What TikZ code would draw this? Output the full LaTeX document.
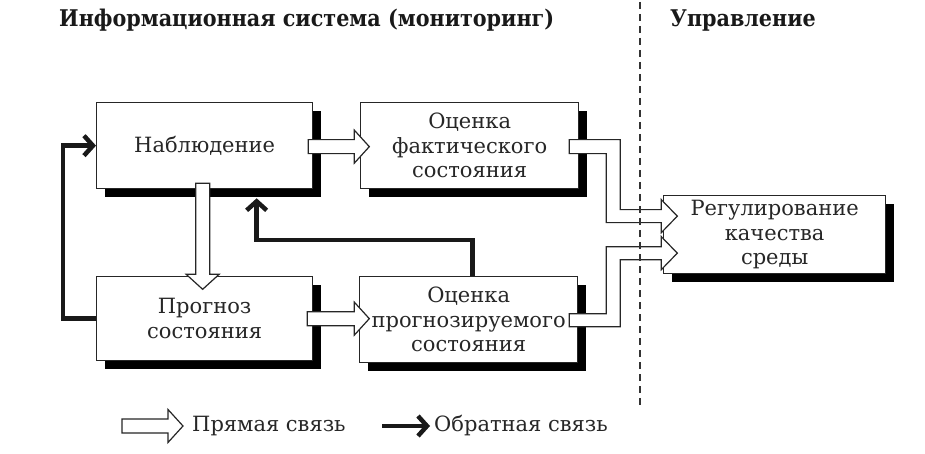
\documentclass[tikz,border=0pt]{standalone}
\usepackage{fontspec}
\setmainfont{DejaVu Serif}
\newfontfamily\titlefont{DejaVu Serif Condensed}
\usetikzlibrary{shadows,calc,arrows.meta}
\begin{document}
\begin{tikzpicture}[x=1pt,y=-1pt,
  box/.style={draw=black!85, line width=1.3pt, fill=white, rectangle, inner sep=0pt, anchor=north west, align=center, font=\fontsize{21}{24.5}\selectfont, text=black!85, drop shadow={shadow xshift=8pt, shadow yshift=-8pt, fill=black, opacity=1}},
  hollow/.style={draw=black!85, line width=1.2pt, fill=white, line join=miter},
  fb/.style={line width=4.5pt, black!90, line join=miter, -{Straight Barb[length=9pt,width=20pt]}},
  lbl/.style={font=\fontsize{21}{24.5}\selectfont, text=black!85, anchor=west, inner sep=0pt},
  ttl/.style={font=\titlefont\bfseries\fontsize{23}{27}\selectfont, text=black!90, anchor=base west, inner sep=0pt},
  dline/.style={line width=2.2pt, black!80, dash pattern=on 7pt off 5pt},
  pics/harrow/.style={code={\draw[hollow] (0,-7) -- (#1-15,-7) -- (#1-15,-16.5) -- (#1,0) -- (#1-15,16.5) -- (#1-15,7) -- (0,7) -- cycle;}}
]
\useasboundingbox (0,0) rectangle (925,454);
% titles
\node[ttl] (t1) at (59,27) {Информационная система (мониторинг)};
\node[ttl] (t2) at (670,27) {Управление};
% boxes
\node[box, minimum width=216pt, minimum height=86pt] (obs) at (96,102) {Наблюдение};
\node[box, minimum width=218pt, minimum height=86pt] (fact) at (360,102) {Оценка\\фактического\\состояния};
\node[box, minimum width=216pt, minimum height=84pt] (prog) at (96,276) {Прогноз\\состояния};
\node[box, minimum width=218pt, minimum height=86pt] (pred) at (359,276) {Оценка\\прогнозируемого\\состояния};
\node[box, minimum width=222pt, minimum height=78pt] (reg) at (663,195) {Регулирование\\качества\\среды};
% direct (hollow) links
\pic at ([shift={(-5,1)}]obs.east) {harrow=61};
\pic[rotate=-90] at ([shift={(-2,-6)}]obs.south) {harrow=106};
\pic at ([shift={(-6,0)}]prog.east) {harrow=62};
\draw[hollow] ([shift={(-10,-6)}]fact.east) -- ++(51,0) -- ++(0,70) -- ++(41,0) -- ++(0,-10) -- ++(16,16.5) -- ++(-16,16.5) -- ++(0,-10) -- ++(-55,0) -- ++(0,-69) -- ++(-37,0) -- cycle;
\draw[hollow] ([shift={(-9,-6)}]pred.east) -- ++(37,0) -- ++(0,-67) -- ++(55,0) -- ++(0,-10) -- ++(16,16.5) -- ++(-16,16.5) -- ++(0,-10) -- ++(-41,0) -- ++(0,67) -- ++(-51,0) -- cycle;
% dashed separator
\coordinate (dtop) at (640,2);
\coordinate (dbot) at (640,406);
\draw[dline] (dtop) -- (dbot);
% feedback links
\draw[fb] (prog.west) -- ++(-33,0) |- (obs.west);
\draw[fb] ([xshift=4pt]pred.north) -- ++(0,-36) -| ([xshift=52pt,yshift=-9pt]obs.south);
% legend
\pic at (122,426) {harrow=61};
\node[lbl] (l1) at (192,426) {Прямая связь};
\coordinate (fbs) at (382,426);
\coordinate (fbe) at (430,426);
\draw[fb] (fbs) -- (fbe);
\node[lbl] (l2) at (434,426) {Обратная связь};
\end{tikzpicture}
\end{document}
